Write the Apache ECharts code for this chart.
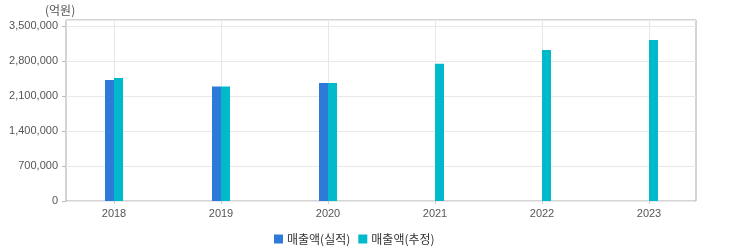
<!DOCTYPE html>
<html><head><meta charset="utf-8">
<script src="https://cdn.jsdelivr.net/npm/echarts@6/dist/echarts.min.js"></script>
<style>html,body{margin:0;padding:0;background:#fff}#c{width:733px;height:248px}</style>
</head><body><div id="c"></div>
<script>
const categories = ['2018','2019','2020','2021','2022','2023'];
const actualName = '매출액(실적)';
const estName = '매출액(추정)';
const actualValues = [2420000, 2290000, 2360000, null, null, null];
const estValues = [2460000, 2290000, 2360000, 2746000, 3020000, 3220000];
const yTicks = [0, 700000, 1400000, 2100000, 2800000, 3500000];
const unitLabel = '(억원)';

const fnt = '"Liberation Sans", Arial, sans-serif';
const chart = echarts.init(document.getElementById('c'));
const yMax = 3620000;
chart.setOption({
  backgroundColor: '#fff',
  animation: false,
  graphic: [{type:'text', left: 45, top: 4, style:{text: unitLabel, fill:'#555', font: '12px ' + '"Noto Sans CJK KR", sans-serif'}}],
  legend: {
    left: 269, top: 228, itemWidth: 9, itemHeight: 9, itemGap: 8, icon: 'rect',
    textStyle: {color:'#333', fontSize: 12, fontFamily: '"Noto Sans CJK KR", sans-serif', padding:[0,0,0,-1]},
    data: [actualName, estName]
  },
  grid: [
    {left: 66, top: 20, width: 630, height: 181, show: true, borderColor: '#aaa', borderWidth: 1, backgroundColor: 'transparent'},
    {left: 60.5, top: 20, width: 642, height: 181}
  ],
  xAxis: [
    {gridIndex: 0, type: 'category', data: categories, show: false},
    {gridIndex: 1, type: 'category', data: categories, boundaryGap: true,
     axisLine: {show: false},
     axisTick: {show: true, alignWithLabel: true, length: 3, lineStyle: {color: '#ccc'}},
     splitLine: {show: true, alignWithLabel: true, lineStyle: {color: '#e8e8e8'}},
     axisLabel: {color: '#555', fontSize: 11, fontFamily: fnt, margin: 7}}
  ],
  yAxis: [
    {gridIndex: 0, type: 'value', min: 0, max: yMax, interval: 700000,
     axisLine: {show: false},
     axisTick: {show: true, length: 4, lineStyle: {color: '#bbb'}},
     splitLine: {show: true, lineStyle: {color: '#e8e8e8'}},
     axisLabel: {color: '#555', fontSize: 11, fontFamily: fnt, margin: 8, showMaxLabel: false,
       formatter: v => yTicks.includes(v) ? v.toLocaleString('en-US') : ''}},
    {gridIndex: 1, type: 'value', min: 0, max: yMax, show: false, splitLine: {show: false}}
  ],
  series: [
    {name: actualName, type: 'bar', xAxisIndex: 1, yAxisIndex: 1, data: actualValues, barWidth: 9, barGap: '0%', itemStyle: {color: '#2d7ad9'}},
    {name: estName, type: 'bar', xAxisIndex: 1, yAxisIndex: 1, data: estValues, barWidth: 9, barGap: '0%', itemStyle: {color: '#00b9cb'}}
  ]
});
</script></body></html>
